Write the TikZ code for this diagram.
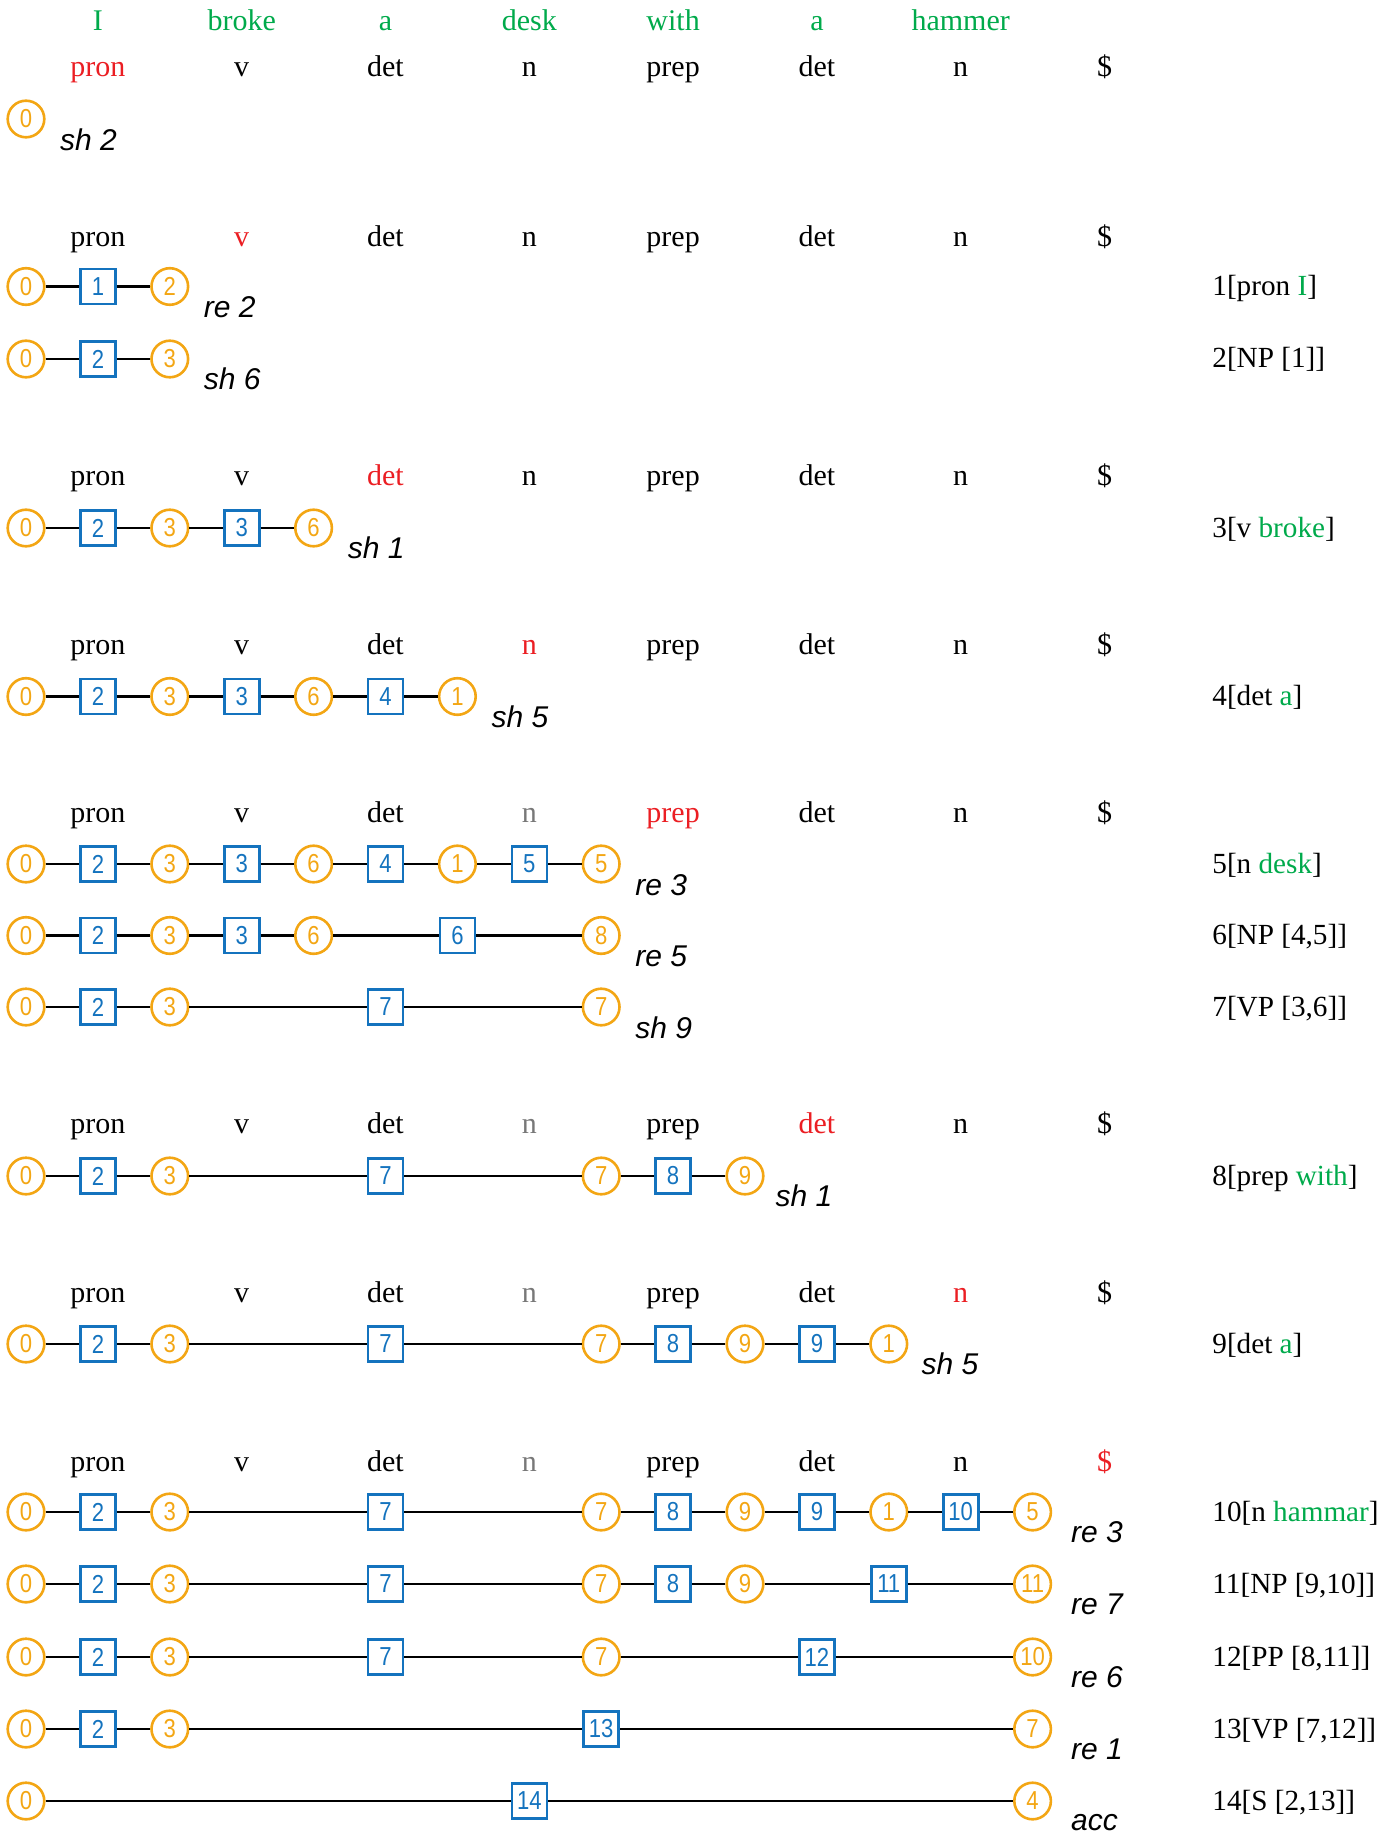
\documentclass[tikz,border=0pt]{standalone}
\usepackage{fontspec}
\setmainfont{Liberation Serif}
\setsansfont{Liberation Sans}
\newfontfamily\digitfont[FakeStretch=0.85]{Liberation Sans}
\definecolor{stateorange}{RGB}{243,166,20}
\definecolor{symblue}{RGB}{20,115,190}
\definecolor{wordgreen}{RGB}{0,170,75}
\definecolor{tagred}{RGB}{235,30,35}
\definecolor{taggray}{RGB}{120,120,120}
\tikzset{
	state/.style={circle,draw=stateorange,line width=1.3pt,minimum size=18.3pt,inner sep=0pt,text=stateorange,font=\digitfont\fontsize{13}{13}\selectfont},
	sym/.style={rectangle,draw=symblue,line width=1.3pt,minimum size=17.5pt,inner sep=0pt,text=symblue,font=\digitfont\fontsize{13}{13}\selectfont},
	tag/.style={anchor=base,inner sep=0pt,font=\fontsize{15}{18}\selectfont},
	word/.style={tag,text=wordgreen},
	act/.style={anchor=base west,inner sep=0pt,font=\sffamily\itshape\fontsize{15}{17}\selectfont},
	rulelabel/.style={anchor=base west,inner sep=0pt,font=\fontsize{14.6}{18}\selectfont},
	link/.style={line width=1.1pt}
}
\newcommand{\gw}[1]{\textcolor{wordgreen}{#1}}
\begin{document}
\begin{tikzpicture}[x=35.95pt,y=-0.5pt]
	\useasboundingbox (-0.3616,0) rectangle (19.04,1834);
	% input words and tag rows
	\foreach \w [count=\i] in {I,broke,a,desk,with,a,hammer}
		\node[word] (w\i) at (2*\i-1,31) {\w};
	\foreach \t/\c [count=\i] in {pron/tagred,v/black,det/black,n/black,prep/black,det/black,n/black,\$/black}
		\node[tag,text=\c] (ta\i) at (2*\i-1,77) {\t};
	\foreach \t/\c [count=\i] in {pron/black,v/tagred,det/black,n/black,prep/black,det/black,n/black,\$/black}
		\node[tag,text=\c] (tb\i) at (2*\i-1,247) {\t};
	\foreach \t/\c [count=\i] in {pron/black,v/black,det/tagred,n/black,prep/black,det/black,n/black,\$/black}
		\node[tag,text=\c] (tc\i) at (2*\i-1,486) {\t};
	\foreach \t/\c [count=\i] in {pron/black,v/black,det/black,n/tagred,prep/black,det/black,n/black,\$/black}
		\node[tag,text=\c] (td\i) at (2*\i-1,654) {\t};
	\foreach \t/\c [count=\i] in {pron/black,v/black,det/black,n/taggray,prep/tagred,det/black,n/black,\$/black}
		\node[tag,text=\c] (te\i) at (2*\i-1,822) {\t};
	\foreach \t/\c [count=\i] in {pron/black,v/black,det/black,n/taggray,prep/black,det/tagred,n/black,\$/black}
		\node[tag,text=\c] (tf\i) at (2*\i-1,1133) {\t};
	\foreach \t/\c [count=\i] in {pron/black,v/black,det/black,n/taggray,prep/black,det/black,n/tagred,\$/black}
		\node[tag,text=\c] (tg\i) at (2*\i-1,1302) {\t};
	\foreach \t/\c [count=\i] in {pron/black,v/black,det/black,n/taggray,prep/black,det/black,n/black,\$/tagred}
		\node[tag,text=\c] (th\i) at (2*\i-1,1471) {\t};

	% stacks
	\node[state] (r1c0) at (0,119) {0};
	\node[act] (a1) at (0.47,151) {sh 2};

	\node[state] (r2c0) at (0,286.5) {0}; \node[sym] (r2c1) at (1,286.5) {1}; \node[state] (r2c2) at (2,286.5) {2};
	\draw[link] (r2c0) -- (r2c1) -- (r2c2);
	\node[act] (a2) at (2.47,318) {re 2};

	\node[state] (r3c0) at (0,359) {0}; \node[sym] (r3c1) at (1,359) {2}; \node[state] (r3c2) at (2,359) {3};
	\draw[link] (r3c0) -- (r3c1) -- (r3c2);
	\node[act] (a3) at (2.47,390) {sh 6};

	\node[state] (r4c0) at (0,528) {0}; \node[sym] (r4c1) at (1,528) {2}; \node[state] (r4c2) at (2,528) {3};
	\node[sym] (r4c3) at (3,528) {3}; \node[state] (r4c4) at (4,528) {6};
	\draw[link] (r4c0) -- (r4c1) -- (r4c2) -- (r4c3) -- (r4c4);
	\node[act] (a4) at (4.47,558) {sh 1};

	\node[state] (r5c0) at (0,696.5) {0}; \node[sym] (r5c1) at (1,696.5) {2}; \node[state] (r5c2) at (2,696.5) {3};
	\node[sym] (r5c3) at (3,696.5) {3}; \node[state] (r5c4) at (4,696.5) {6};
	\node[sym] (r5c5) at (5,696.5) {4}; \node[state] (r5c6) at (6,696.5) {1};
	\draw[link] (r5c0) -- (r5c1) -- (r5c2) -- (r5c3) -- (r5c4) -- (r5c5) -- (r5c6);
	\node[act] (a5) at (6.47,727.5) {sh 5};

	\node[state] (r6c0) at (0,864) {0}; \node[sym] (r6c1) at (1,864) {2}; \node[state] (r6c2) at (2,864) {3};
	\node[sym] (r6c3) at (3,864) {3}; \node[state] (r6c4) at (4,864) {6};
	\node[sym] (r6c5) at (5,864) {4}; \node[state] (r6c6) at (6,864) {1};
	\node[sym] (r6c7) at (7,864) {5}; \node[state] (r6c8) at (8,864) {5};
	\draw[link] (r6c0) -- (r6c1) -- (r6c2) -- (r6c3) -- (r6c4) -- (r6c5) -- (r6c6) -- (r6c7) -- (r6c8);
	\node[act] (a6) at (8.47,895) {re 3};

	\node[state] (r7c0) at (0,935.5) {0}; \node[sym] (r7c1) at (1,935.5) {2}; \node[state] (r7c2) at (2,935.5) {3};
	\node[sym] (r7c3) at (3,935.5) {3}; \node[state] (r7c4) at (4,935.5) {6};
	\node[sym] (r7c6) at (6,935.5) {6}; \node[state] (r7c8) at (8,935.5) {8};
	\draw[link] (r7c0) -- (r7c1) -- (r7c2) -- (r7c3) -- (r7c4) -- (r7c6) -- (r7c8);
	\node[act] (a7) at (8.47,966.5) {re 5};

	\node[state] (r8c0) at (0,1007) {0}; \node[sym] (r8c1) at (1,1007) {2}; \node[state] (r8c2) at (2,1007) {3};
	\node[sym] (r8c5) at (5,1007) {7}; \node[state] (r8c8) at (8,1007) {7};
	\draw[link] (r8c0) -- (r8c1) -- (r8c2) -- (r8c5) -- (r8c8);
	\node[act] (a8) at (8.47,1038) {sh 9};

	\node[state] (r9c0) at (0,1176) {0}; \node[sym] (r9c1) at (1,1176) {2}; \node[state] (r9c2) at (2,1176) {3};
	\node[sym] (r9c5) at (5,1176) {7}; \node[state] (r9c8) at (8,1176) {7};
	\node[sym] (r9c9) at (9,1176) {8}; \node[state] (r9c10) at (10,1176) {9};
	\draw[link] (r9c0) -- (r9c1) -- (r9c2) -- (r9c5) -- (r9c8) -- (r9c9) -- (r9c10);
	\node[act] (a9) at (10.42,1206) {sh 1};

	\node[state] (r10c0) at (0,1344) {0}; \node[sym] (r10c1) at (1,1344) {2}; \node[state] (r10c2) at (2,1344) {3};
	\node[sym] (r10c5) at (5,1344) {7}; \node[state] (r10c8) at (8,1344) {7};
	\node[sym] (r10c9) at (9,1344) {8}; \node[state] (r10c10) at (10,1344) {9};
	\node[sym] (r10c11) at (11,1344) {9}; \node[state] (r10c12) at (12,1344) {1};
	\draw[link] (r10c0) -- (r10c1) -- (r10c2) -- (r10c5) -- (r10c8) -- (r10c9) -- (r10c10) -- (r10c11) -- (r10c12);
	\node[act] (a10) at (12.45,1374) {sh 5};

	\node[state] (r11c0) at (0,1512) {0}; \node[sym] (r11c1) at (1,1512) {2}; \node[state] (r11c2) at (2,1512) {3};
	\node[sym] (r11c5) at (5,1512) {7}; \node[state] (r11c8) at (8,1512) {7};
	\node[sym] (r11c9) at (9,1512) {8}; \node[state] (r11c10) at (10,1512) {9};
	\node[sym] (r11c11) at (11,1512) {9}; \node[state] (r11c12) at (12,1512) {1};
	\node[sym] (r11c13) at (13,1512) {10}; \node[state] (r11c14) at (14,1512) {5};
	\draw[link] (r11c0) -- (r11c1) -- (r11c2) -- (r11c5) -- (r11c8) -- (r11c9) -- (r11c10) -- (r11c11) -- (r11c12) -- (r11c13) -- (r11c14);
	\node[act] (a11) at (14.53,1542) {re 3};

	\node[state] (r12c0) at (0,1584) {0}; \node[sym] (r12c1) at (1,1584) {2}; \node[state] (r12c2) at (2,1584) {3};
	\node[sym] (r12c5) at (5,1584) {7}; \node[state] (r12c8) at (8,1584) {7};
	\node[sym] (r12c9) at (9,1584) {8}; \node[state] (r12c10) at (10,1584) {9};
	\node[sym] (r12c12) at (12,1584) {11}; \node[state] (r12c14) at (14,1584) {11};
	\draw[link] (r12c0) -- (r12c1) -- (r12c2) -- (r12c5) -- (r12c8) -- (r12c9) -- (r12c10) -- (r12c12) -- (r12c14);
	\node[act] (a12) at (14.53,1614) {re 7};

	\node[state] (r13c0) at (0,1657) {0}; \node[sym] (r13c1) at (1,1657) {2}; \node[state] (r13c2) at (2,1657) {3};
	\node[sym] (r13c5) at (5,1657) {7}; \node[state] (r13c8) at (8,1657) {7};
	\node[sym] (r13c11) at (11,1657) {12}; \node[state] (r13c14) at (14,1657) {10};
	\draw[link] (r13c0) -- (r13c1) -- (r13c2) -- (r13c5) -- (r13c8) -- (r13c11) -- (r13c14);
	\node[act] (a13) at (14.53,1687) {re 6};

	\node[state] (r14c0) at (0,1729) {0}; \node[sym] (r14c1) at (1,1729) {2}; \node[state] (r14c2) at (2,1729) {3};
	\node[sym] (r14c8) at (8,1729) {13}; \node[state] (r14c14) at (14,1729) {7};
	\draw[link] (r14c0) -- (r14c1) -- (r14c2) -- (r14c8) -- (r14c14);
	\node[act] (a14) at (14.53,1759) {re 1};

	\node[state] (r15c0) at (0,1801) {0}; \node[sym] (r15c7) at (7,1801) {14}; \node[state] (r15c14) at (14,1801) {4};
	\draw[link] (r15c0) -- (r15c7) -- (r15c14);
	\node[act] (a15) at (14.53,1830) {acc};

	% reductions
	\node[rulelabel] (p1) at (16.495,295.5) {1[pron \gw{I}]};
	\node[rulelabel] (p2) at (16.495,368) {2[NP [1]]};
	\node[rulelabel] (p3) at (16.495,537) {3[v \gw{broke}]};
	\node[rulelabel] (p4) at (16.495,705.5) {4[det \gw{a}]};
	\node[rulelabel] (p5) at (16.495,873) {5[n \gw{desk}]};
	\node[rulelabel] (p6) at (16.495,944.5) {6[NP [4,5]]};
	\node[rulelabel] (p7) at (16.495,1016) {7[VP [3,6]]};
	\node[rulelabel] (p8) at (16.495,1185) {8[prep \gw{with}]};
	\node[rulelabel] (p9) at (16.495,1353) {9[det \gw{a}]};
	\node[rulelabel] (p10) at (16.495,1521) {10[n \gw{hammar}]};
	\node[rulelabel] (p11) at (16.495,1593) {11[NP [9,10]]};
	\node[rulelabel] (p12) at (16.495,1666) {12[PP [8,11]]};
	\node[rulelabel] (p13) at (16.495,1738) {13[VP [7,12]]};
	\node[rulelabel] (p14) at (16.495,1810) {14[S [2,13]]};
\end{tikzpicture}
\end{document}
